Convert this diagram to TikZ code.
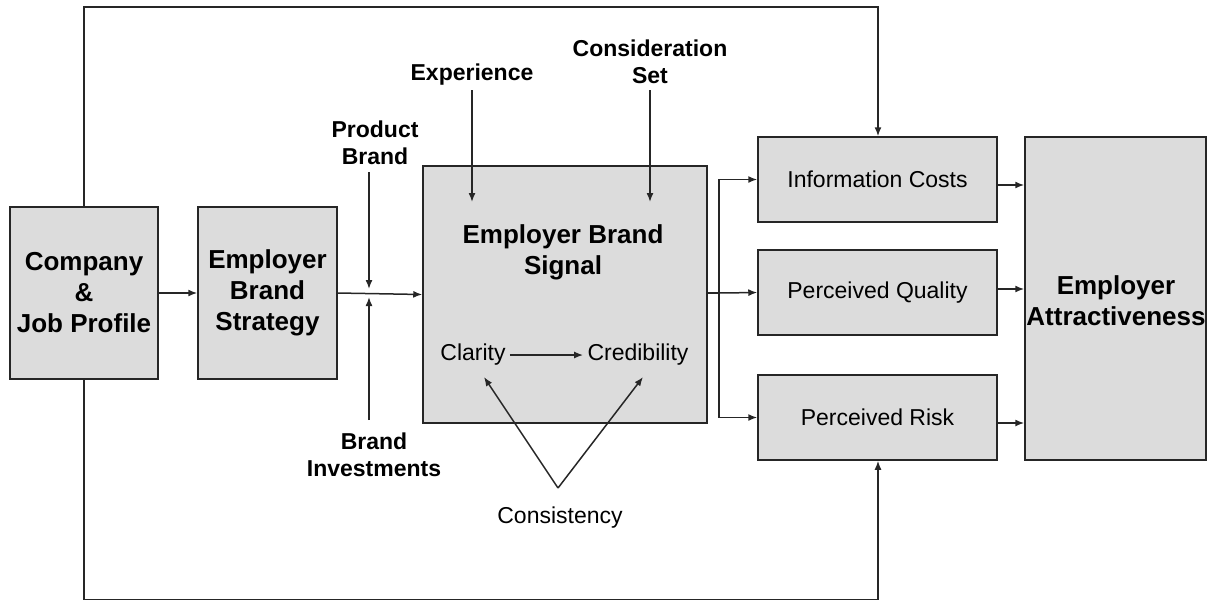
\documentclass[tikz,border=0pt]{standalone}
\usepackage{fontspec}
\setmainfont{Liberation Sans}
\usetikzlibrary{arrows.meta,calc}
\definecolor{boxgray}{RGB}{220,220,220}
\tikzset{
  x=0.5pt, y=-0.5pt,
  box/.style={draw=black!85, line width=0.75pt, fill=boxgray, inner sep=0pt, align=center},
  bigtitle/.style={font=\fontsize{13}{15.5}\selectfont\bfseries, align=center, inner sep=0pt},
  lbl/.style={font=\fontsize{11.5}{13.5}\selectfont\bfseries, align=center, inner sep=0pt},
  plain/.style={font=\fontsize{11.5}{13.5}\selectfont, align=center, inner sep=0pt},
  conn/.style={line width=0.75pt, draw=black!85},
  arr/.style={conn, -{Latex[length=4.5pt,width=3.5pt]}},
}
\begin{document}
\begin{tikzpicture}
\useasboundingbox (0,0) rectangle (1218,601);
% boxes
\node[box, minimum width=74pt, minimum height=86pt, bigtitle] (comp) at (84,293) {Company\\\&\\Job Profile};
\node[box, minimum width=69.5pt, minimum height=86pt, bigtitle] (ebs) at (267.5,293) {Employer\\Brand\\Strategy};
\node[box, minimum width=142pt, minimum height=128.5pt] (sig) at (565,294.5) {};
\node[box, minimum width=119.5pt, minimum height=42.5pt, plain] (ic) at (877.5,179.5) {Information Costs};
\node[box, minimum width=119.5pt, minimum height=42.5pt, plain] (pq) at (877.5,292.5) {Perceived Quality};
\node[box, minimum width=119.5pt, minimum height=42.5pt, plain] (pr) at (877.5,417.5) {Perceived Risk};
\node[box, minimum width=90.5pt, minimum height=161.5pt] (ea) at (1115.5,298.5) {};
\node[bigtitle] (eat) at (1116,301) {Employer\\Attractiveness};
% signal contents
\node[bigtitle] (sigt) at (563,252) {Employer Brand\\Signal};
\node[plain] (cla) at (473,355) {Clarity};
\node[plain] (cre) at (638,355) {Credibility};
\node[plain] (con) at (560,518) {Consistency};
% external labels
\node[lbl] (pb) at (375,143) {Product\\Brand};
\node[lbl] (bi) at (374,455) {Brand\\Investments};
\node[lbl] (exp) at (472,75) {Experience};
\node[lbl] (cs) at (650,62) {Consideration\\Set};
% coordinates
\coordinate (pbs) at (369,172);
\coordinate (pbe) at (369,289);
\coordinate (bis) at (369,420);
\coordinate (bie) at (369,297);
\coordinate (exps) at (472,90);
\coordinate (expe) at (472,202);
\coordinate (css) at (650,90);
\coordinate (cse) at (650,202);
\coordinate (apex) at (558,488);
\coordinate (clat) at (484,377);
\coordinate (cret) at (643,377);
\coordinate (br) at (719,293);
\coordinate (tl) at (84,7);
\coordinate (tr) at (878,7);
\coordinate (bl) at (84,599.5);
\coordinate (brr) at (878,599.5);
% connectors
\draw[arr] (comp.east) -- (ebs.west);
\draw[arr] (ebs.east) -- (sig.west);
\draw[arr] (pbs) -- (pbe);
\draw[arr] (bis) -- (bie);
\draw[arr] (exps) -- (expe);
\draw[arr] (css) -- (cse);
\draw[arr] (cla.east) ++(4,0) -- ($(cre.west)+(-4,0)$);
\draw[arr] (apex) -- (clat);
\draw[arr] (apex) -- (cret);
\draw[conn] (sig.east |- br) -- (br);
\draw[arr] (br) |- (ic.west);
\draw[arr] (br) -- (pq.west);
\draw[arr] (br) |- (pr.west);
\draw[arr] (ic.east |- 0,185) -- (ea.west |- 0,185);
\draw[arr] (pq.east |- 0,289) -- (ea.west |- 0,289);
\draw[arr] (pr.east |- 0,423) -- (ea.west |- 0,423);
\draw[arr] (comp.north) -- (tl) -- (tr) -- (ic.north -| tr);
\draw[arr] (comp.south) -- (bl) -- (brr) -- (pr.south -| brr);
\end{tikzpicture}
\end{document}
